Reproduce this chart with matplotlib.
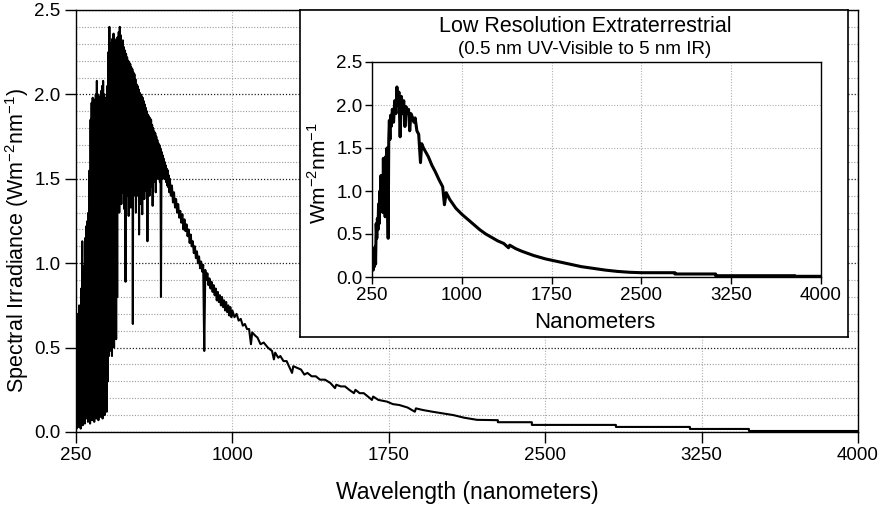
import matplotlib
matplotlib.use('Agg')
import matplotlib.pyplot as plt
from matplotlib.ticker import MultipleLocator, FormatStrFormatter

# high resolution spectrum (nm, W m-2 nm-1)
wl_main = [250, 252.5, 255, 257.5, 260, 262.5, 265, 267.5, 270, 272.5,
           275, 277.5, 280, 282.5, 285, 287.5, 290, 292.5, 295, 297.5,
           300, 302.5, 305, 307.5, 310, 312.5, 315, 317.5, 320, 322.5,
           325, 327.5, 330, 332.5, 335, 337.5, 340, 342.5, 345, 347.5,
           350, 352.5, 355, 357.5, 360, 362.5, 365, 367.5, 370, 372.5,
           375, 377.5, 380, 382.5, 385, 387.5, 390, 392.5, 395, 397.5,
           400, 402.5, 405, 407.5, 410, 412.5, 415, 417.5, 420, 422.5,
           425, 427.5, 430, 432.5, 435, 437.5, 440, 442.5, 445, 447.5,
           450, 452.5, 455, 457.5, 460, 462.5, 465, 467.5, 470, 472.5,
           475, 477.5, 480, 482.5, 485, 487.5, 490, 492.5, 495, 497.5,
           500, 502.5, 505, 507.5, 510, 512.5, 515, 517.5, 520, 522.5,
           525, 527.5, 530, 532.5, 535, 537.5, 540, 542.5, 545, 547.5,
           550, 552.5, 555, 557.5, 560, 562.5, 565, 567.5, 570, 572.5,
           575, 577.5, 580, 582.5, 585, 587.5, 590, 592.5, 595, 597.5,
           600, 602.5, 605, 607.5, 610, 612.5, 615, 617.5, 620, 622.5,
           625, 627.5, 630, 632.5, 635, 637.5, 640, 642.5, 645, 647.5,
           650, 652.5, 655, 657.5, 660, 662.5, 665, 667.5, 670, 672.5,
           675, 677.5, 680, 682.5, 685, 687.5, 690, 692.5, 695, 697.5,
           700, 705, 710, 715, 720, 725, 730, 735, 740, 745,
           750, 755, 760, 765, 770, 775, 780, 785, 790, 795,
           800, 805, 810, 815, 820, 825, 830, 835, 840, 845,
           850, 855, 860, 865, 870, 875, 880, 885, 890, 895,
           900, 905, 910, 915, 920, 925, 930, 935, 940, 945,
           950, 955, 960, 965, 970, 975, 980, 985, 990, 995,
           1000, 1010, 1020, 1030, 1040, 1050, 1060, 1070, 1080, 1089,
           1095, 1110, 1120, 1135, 1150, 1170, 1190, 1199, 1205, 1220,
           1230, 1245, 1260, 1286, 1292, 1310, 1329, 1345, 1360, 1380,
           1400, 1420, 1444, 1470, 1492, 1498, 1520, 1540, 1560, 1583,
           1590, 1610, 1630, 1650, 1669, 1675, 1700, 1741, 1770, 1800,
           1840, 1875, 1880, 1914, 1960, 2010, 2060, 2110, 2173, 2273,
           2273, 2436, 2436, 2839, 2839, 3194, 3194, 3477, 3477, 4000]
irr_main = [0.35, 0.02, 0.55, 0.05, 0.70, 0.03, 0.75, 0.06, 0.62, 0.02,
            0.85, 0.08, 1.13, 0.04, 0.98, 0.10, 0.98, 0.05, 1.15, 0.08,
            1.22, 0.12, 1.25, 0.06, 1.30, 0.10, 1.55, 0.05, 1.85, 0.12,
            1.95, 0.07, 1.98, 0.10, 1.97, 0.06, 1.95, 0.13, 2.00, 0.08,
            2.08, 0.11, 2.00, 0.07, 1.96, 0.12, 1.99, 0.09, 2.02, 0.14,
            2.05, 0.08, 2.08, 0.12, 2.00, 0.10, 1.96, 0.15, 1.98, 0.12,
            2.05, 0.30, 2.25, 0.45, 2.40, 0.48, 2.30, 0.50, 2.25, 0.45,
            2.33, 0.55, 2.36, 0.50, 2.32, 0.60, 2.30, 0.55, 2.33, 0.80,
            2.34, 1.42, 2.37, 1.30, 2.40, 1.45, 2.35, 1.35, 2.30, 1.42,
            2.32, 1.45, 2.28, 1.32, 2.26, 0.89, 2.24, 1.42, 2.22, 1.40,
            2.20, 1.28, 2.19, 1.40, 2.18, 1.33, 2.16, 1.42, 2.15, 0.64,
            2.13, 1.40, 2.12, 1.45, 2.09, 1.30, 2.06, 1.45, 2.05, 1.40,
            2.03, 1.17, 2.01, 1.35, 2.00, 1.45, 1.99, 1.29, 1.98, 1.42,
            1.96, 1.38, 1.94, 1.43, 1.92, 1.46, 1.90, 1.13, 1.88, 1.45,
            1.87, 1.40, 1.86, 1.45, 1.85, 1.50, 1.82, 1.34, 1.80, 1.48,
            1.78, 1.50, 1.77, 1.42, 1.75, 1.52, 1.73, 1.50, 1.71, 1.52,
            1.70, 1.48, 1.68, 0.80, 1.66, 1.50, 1.64, 1.52, 1.62, 1.50,
            1.60, 1.50, 1.58, 1.48, 1.56, 1.46, 1.55, 1.45, 1.52, 1.42,
            1.50, 1.40, 1.46, 1.36, 1.42, 1.33, 1.38, 1.30, 1.35, 1.27,
            1.31, 1.24, 1.29, 1.20, 1.26, 1.19, 1.23, 1.16, 1.20, 1.12,
            1.17, 1.10, 1.13, 1.06, 1.10, 1.03, 1.07, 1.00, 1.04, 0.97,
            1.01, 0.95, 0.99, 0.48, 0.96, 0.90, 0.94, 0.87, 0.91, 0.85,
            0.89, 0.83, 0.87, 0.81, 0.85, 0.78, 0.83, 0.77, 0.81, 0.75,
            0.80, 0.74, 0.78, 0.72, 0.77, 0.71, 0.75, 0.69, 0.74, 0.68,
            0.72, 0.68, 0.70, 0.66, 0.67, 0.63, 0.64, 0.61, 0.61, 0.52,
            0.59, 0.57, 0.56, 0.52, 0.53, 0.50, 0.48, 0.43, 0.47, 0.44,
            0.45, 0.42, 0.42, 0.35, 0.39, 0.38, 0.37, 0.34, 0.35, 0.33,
            0.33, 0.31, 0.31, 0.29, 0.26, 0.28, 0.27, 0.27, 0.25, 0.23,
            0.25, 0.23, 0.23, 0.21, 0.19, 0.21, 0.19, 0.18, 0.165, 0.16,
            0.145, 0.12, 0.14, 0.13, 0.12, 0.11, 0.10, 0.085, 0.072, 0.070,
            0.058, 0.058, 0.042, 0.042, 0.030, 0.030, 0.018, 0.018, 0.006, 0.006]

# low resolution spectrum from the inset
wl_low = [250, 255, 260, 265, 270, 275, 280, 285, 290, 295,
          300, 305, 310, 315, 320, 325, 330, 335, 340, 345,
          350, 355, 360, 365, 370, 375, 380, 385, 390, 395,
          400, 405, 410, 420, 430, 440, 450, 458, 465, 475,
          485, 495, 505, 515, 525, 535, 545, 555, 565, 575,
          590, 600, 610, 625, 640, 655, 665, 680, 700, 720,
          750, 780, 810, 840, 855, 870, 900, 950, 1000, 1050,
          1100, 1150, 1200, 1250, 1300, 1350, 1390, 1400, 1450, 1500,
          1600, 1700, 1800, 1900, 2000, 2100, 2200, 2300, 2400, 2500,
          2780, 2780, 3120, 3120, 3780, 3780, 4000]
irr_low = [0.10, 0.25, 0.08, 0.30, 0.12, 0.35, 0.15, 0.62, 0.45, 0.68,
           0.55, 0.85, 0.62, 1.00, 0.78, 1.18, 0.85, 1.15, 0.75, 1.38,
           0.90, 1.30, 0.70, 1.40, 1.10, 1.50, 0.90, 0.45, 1.60, 1.82,
           1.60, 1.88, 1.75, 1.95, 1.80, 2.05, 1.90, 2.21, 2.00, 2.15,
           1.63, 2.10, 1.90, 2.05, 1.75, 1.98, 1.90, 1.95, 1.70, 1.90,
           1.85, 1.80, 1.85, 1.70, 1.66, 1.33, 1.55, 1.50, 1.45, 1.40,
           1.30, 1.22, 1.13, 1.05, 0.84, 0.98, 0.90, 0.80, 0.73, 0.67,
           0.61, 0.55, 0.50, 0.46, 0.42, 0.39, 0.34, 0.37, 0.33, 0.30,
           0.25, 0.21, 0.18, 0.15, 0.12, 0.10, 0.08, 0.065, 0.055, 0.05,
           0.05, 0.035, 0.035, 0.015, 0.015, 0.008, 0.008]

xticks = [250, 1000, 1750, 2500, 3250, 4000]

plt.rcParams['font.family'] = ['Liberation Sans', 'DejaVu Sans']
plt.rcParams['mathtext.fontset'] = 'custom'
plt.rcParams['mathtext.rm'] = 'Liberation Sans'
plt.rcParams['path.simplify'] = False

W, H = 888, 512
fig = plt.figure(figsize=(W / 100, H / 100), dpi=100)

# main panel
ax = fig.add_axes([76 / W, 1 - 432 / H, 782 / W, 422 / H])
ax.plot(wl_main, irr_main, color='k', lw=1.5, zorder=3)
ax.set_xlim(250, 4000)
ax.set_ylim(0, 2.5)
ax.set_xticks(xticks)
ax.yaxis.set_major_locator(MultipleLocator(0.5))
ax.yaxis.set_minor_locator(MultipleLocator(0.1))
ax.yaxis.set_major_formatter(FormatStrFormatter('%.1f'))
ax.tick_params(which='major', direction='out', length=8, width=1,
               labelsize=13.5, pad=3)
ax.tick_params(which='minor', length=0)
ax.grid(axis='y', which='major', color='#222222', ls=(0, (1, 1.5)), lw=0.9)
ax.grid(axis='y', which='minor', color='#9a9a9a', ls=(0, (1, 1.5)), lw=0.8)
ax.grid(axis='x', which='major', color='#b0b0b0', ls=(0, (1, 1.5)), lw=0.8)
for s in ax.spines.values():
    s.set_linewidth(1.0)

# white box holding the inset
box = fig.add_axes([300 / W, 1 - 337 / H, 548 / W, 327 / H])
box.set_xticks([])
box.set_yticks([])
box.set_facecolor('white')
for s in box.spines.values():
    s.set_linewidth(1.2)

ins = fig.add_axes([372 / W, 1 - 277 / H, 449 / W, 215 / H])
ins.plot(wl_low, irr_low, color='k', lw=2.2, zorder=3)
ins.set_xlim(250, 4000)
ins.set_ylim(0, 2.5)
ins.set_xticks(xticks)
ins.yaxis.set_major_locator(MultipleLocator(0.5))
ins.yaxis.set_major_formatter(FormatStrFormatter('%.1f'))
ins.tick_params(direction='out', length=5, width=1, labelsize=13.5, pad=2)
ins.grid(color='#b0b0b0', ls=(0, (1, 1.5)), lw=0.8)
for s in ins.spines.values():
    s.set_linewidth(1.0)

fig.text(585 / W, 1 - 27 / H, 'Low Resolution Extraterrestrial',
         ha='center', va='center', fontsize=15.5)
fig.text(585 / W, 1 - 50 / H, '(0.5 nm UV-Visible to 5 nm IR)',
         ha='center', va='center', fontsize=13.5)
fig.text(595 / W, 1 - 322 / H, 'Nanometers', ha='center', va='center', fontsize=16)
fig.text(318 / W, 1 - 173 / H, r'Wm$^{\mathregular{-2}}$nm$^{\mathregular{-1}}$',
         ha='center', va='center', rotation=90, fontsize=15)
fig.text(17 / W, 1 - 240 / H,
         r'Spectral Irradiance (Wm$^{\mathregular{-2}}$nm$^{\mathregular{-1}}$)',
         ha='center', va='center', rotation=90, fontsize=15.5)
fig.text(467 / W, 1 - 492 / H, 'Wavelength (nanometers)',
         ha='center', va='center', fontsize=16.5)

fig.savefig('out.png', dpi=100)
